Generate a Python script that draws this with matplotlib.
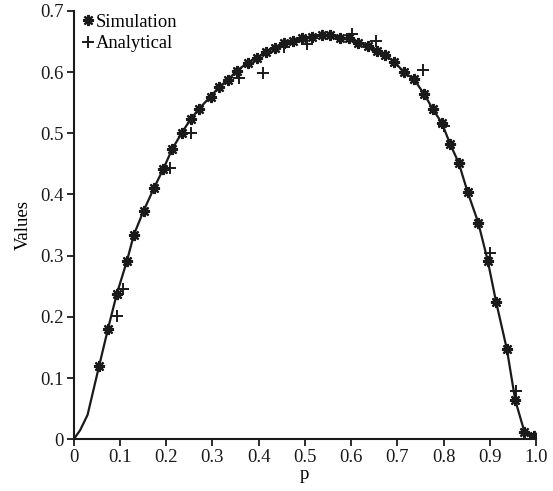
import matplotlib
matplotlib.use("Agg")
import matplotlib.pyplot as plt

plt.rcParams['font.family'] = ['Liberation Serif', 'DejaVu Serif']

# Simulation points (asterisks)
sim_p = [0.055, 0.074, 0.093, 0.115, 0.130, 0.151, 0.174, 0.194, 0.213,
         0.234, 0.253, 0.270, 0.296, 0.314, 0.333, 0.353, 0.376, 0.396,
         0.415, 0.435, 0.455, 0.474, 0.494, 0.515, 0.536, 0.554, 0.575,
         0.596, 0.616, 0.636, 0.655, 0.673, 0.693, 0.714, 0.736, 0.758,
         0.777, 0.796, 0.814, 0.833, 0.852, 0.875, 0.8955, 0.9135, 0.937,
         0.955, 0.975, 0.995]
sim_v = [0.120, 0.180, 0.237, 0.291, 0.334, 0.373, 0.411, 0.442, 0.474,
         0.501, 0.523, 0.539, 0.560, 0.575, 0.587, 0.602, 0.615, 0.623,
         0.632, 0.640, 0.647, 0.651, 0.656, 0.658, 0.660, 0.660, 0.656,
         0.655, 0.648, 0.642, 0.635, 0.628, 0.617, 0.600, 0.588, 0.564,
         0.539, 0.517, 0.483, 0.451, 0.404, 0.354, 0.292, 0.225, 0.147,
         0.064, 0.012, 0.005]

# Analytical points (plus signs)
ana_p = [0.094, 0.107, 0.208, 0.253, 0.357, 0.409, 0.455, 0.505, 0.601,
         0.654, 0.755, 0.801, 0.900, 0.956]
ana_v = [0.201, 0.245, 0.444, 0.501, 0.590, 0.599, 0.641, 0.646, 0.662,
         0.651, 0.603, 0.511, 0.304, 0.079]

# solid curve: starts at the origin, runs through the simulation points
line_p = [0.0, 0.014, 0.030] + sim_p + [1.0]
line_v = [0.0, 0.015, 0.040] + sim_v + [0.0]

x_ticks = [0, 0.1, 0.2, 0.3, 0.4, 0.5, 0.6, 0.7, 0.8, 0.9, 1.0]
x_labels = ['0', '0.1', '0.2', '0.3', '0.4', '0.5', '0.6', '0.7', '0.8', '0.9', '1.0']
y_ticks = [0, 0.1, 0.2, 0.3, 0.4, 0.5, 0.6, 0.7]
y_labels = ['0', '0.1', '0.2', '0.3', '0.4', '0.5', '0.6', '0.7']

fig = plt.figure(figsize=(5.53, 4.91), dpi=100)
ax = fig.add_axes([0.1333, 0.1053, 0.836, 0.8727])

ax.plot(line_p, line_v, color='#1a1a1a', lw=1.6, zorder=2)
ax.plot(sim_p, sim_v, ls='none', marker=(8, 2, 0), ms=8, mew=1.6,
        color='#1a1a1a', label='Simulation', zorder=3)
ax.plot(ana_p, ana_v, ls='none', marker='+', ms=9, mew=1.4,
        color='#1a1a1a', label='Analytical', zorder=3)

ax.set_xlim(0, 1.0)
ax.set_ylim(0, 0.7)
ax.set_xticks(x_ticks)
ax.set_xticklabels(x_labels)
ax.set_yticks(y_ticks)
ax.set_yticklabels(y_labels)

for side in ['top', 'right']:
    ax.spines[side].set_visible(False)
for side in ['left', 'bottom']:
    ax.spines[side].set_linewidth(1.5)
    ax.spines[side].set_color('#1a1a1a')

ax.tick_params(direction='out', length=5, width=1.3, labelsize=13.5,
               colors='#1a1a1a', pad=2)
ax.set_xlabel('p', fontsize=13.5, labelpad=0)
ax.set_ylabel('Values', fontsize=13.5, labelpad=6)

ax.legend(loc='upper left', bbox_to_anchor=(0.0, 1.015), frameon=False,
          handlelength=0.6, handletextpad=0.1, borderpad=0.2, borderaxespad=0.3,
          labelspacing=0.25, fontsize=13.3)

fig.savefig('out.png', dpi=100)
